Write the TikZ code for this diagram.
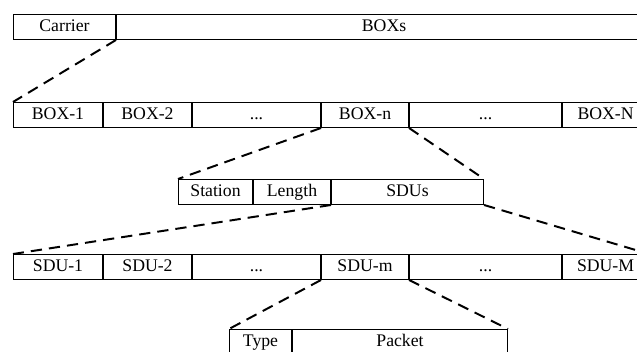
\documentclass[tikz,border=0pt]{standalone}
\usepackage{fontspec}
\setmainfont{Liberation Serif}
\usetikzlibrary{positioning}

\tikzset{
	cell/.style={draw, line width=0.7pt, inner sep=0pt, minimum height=0.625cm,
		text height=0.7em, text depth=0.1em},
	zoomline/.style={line width=1.4pt, dash pattern=on 8pt off 5pt}
}

\begin{document}
\begin{tikzpicture}[x=0.025cm, y=-0.025cm, font=\fontsize{12.6}{14}\selectfont]
		\useasboundingbox (0, 0) rectangle (637, 352);
		% frame
		\node[cell, anchor=north west, minimum width=2.55cm] (carrier) at (13, 14) {Carrier};
		\node[cell, minimum width=13.375cm, right=0pt of carrier] (boxs) {BOXs};
		
		% boxes
		\node[cell, anchor=north west, minimum width=2.225cm] (box1) at (13, 102) {BOX-1};
		\node[cell, minimum width=2.2cm, right=0pt of box1] (box2) {BOX-2};
		\node[cell, minimum width=3.2cm, right=0pt of box2] (boxdots1) {...};
		\node[cell, minimum width=2.175cm, right=0pt of boxdots1] (boxn) {BOX-n};
		\node[cell, minimum width=3.8cm, right=0pt of boxn] (boxdots2) {...};
		\node[cell, minimum width=2.15cm, right=0pt of boxdots2] (boxN) {BOX-N};
		
		% one box
		\node[cell, anchor=north west, minimum width=1.85cm] (station) at (178, 179) {Station};
		\node[cell, minimum width=1.925cm, right=0pt of station] (length) {Length};
		\node[cell, minimum width=3.8cm, right=0pt of length] (sdus) {SDUs};
		
		% SDUs
		\node[cell, anchor=north west, minimum width=2.225cm] (sdu1) at (13, 254) {SDU-1};
		\node[cell, minimum width=2.2cm, right=0pt of sdu1] (sdu2) {SDU-2};
		\node[cell, minimum width=3.2cm, right=0pt of sdu2] (sdudots1) {...};
		\node[cell, minimum width=2.175cm, right=0pt of sdudots1] (sdum) {SDU-m};
		\node[cell, minimum width=3.8cm, right=0pt of sdum] (sdudots2) {...};
		\node[cell, minimum width=2.15cm, right=0pt of sdudots2] (sduM) {SDU-M};
		
		% one SDU
		\node[cell, anchor=north west, minimum width=1.55cm] (type) at (229, 329) {Type};
		\node[cell, minimum width=5.375cm, right=0pt of type] (packet) {Packet};
		
		% zoom lines
		\draw[zoomline] (carrier.south east) -- (box1.north west);
		\draw[zoomline] (boxn.south west) -- (station.north west);
		\draw[zoomline] (boxn.south east) -- (sdus.north east);
		\draw[zoomline] (length.south east) -- (sdu1.north west);
		\draw[zoomline] (sdus.south east) -- (sduM.north east);
		\draw[zoomline] (sdum.south west) -- (type.north west);
		\draw[zoomline] (sdum.south east) -- (packet.north east);
	\end{tikzpicture}
\end{document}
